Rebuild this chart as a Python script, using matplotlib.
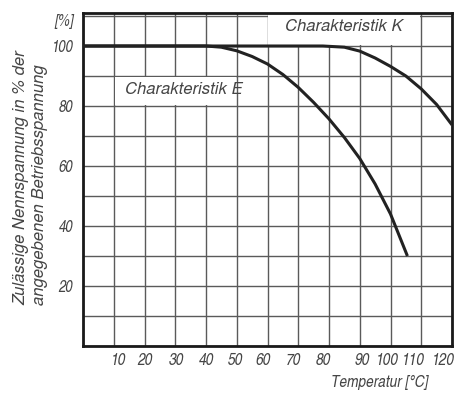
import matplotlib

matplotlib.use("Agg")
import matplotlib.pyplot as plt
from matplotlib.patches import Rectangle
from matplotlib.transforms import ScaledTranslation

# temperature [°C] vs. permissible rated voltage [%]
temp_e = [0, 40, 45, 50, 55, 60, 65, 70, 75, 80, 85, 90, 95, 100, 105.5]
volt_e = [100, 100, 99.6, 98.4, 96.5, 94, 90.5, 86.2, 81.2, 75.7, 69.5, 62.5, 54, 44, 30]
temp_k = [0, 78, 85, 90, 95, 100, 105, 110, 115, 120]
volt_k = [100, 100, 99.6, 98.3, 96, 93.2, 90, 85.7, 80.5, 73.7]

x_ticks = list(range(10, 130, 10))
y_ticks = [20, 40, 60, 80, 100]

W, H = 462, 393
FONT = ["TeX Gyre Heros", "Liberation Sans", "DejaVu Sans"]
FONT_CN = ["TeX Gyre Heros Cn", "Liberation Sans Narrow", "DejaVu Sans"]
TXT = "#454545"
GRID = "#5a5a5a"

plt.rcParams["font.family"] = FONT_CN
plt.rcParams["font.style"] = "italic"

fig = plt.figure(figsize=(W / 100, H / 100), dpi=100)
ax = fig.add_axes([83 / W, 1 - 346 / H, (452 - 83) / W, (346 - 13) / H])
ax.set_xlim(0, 120)
ax.set_ylim(0, 111)

# grid every 10 units
ax.set_xticks(range(0, 130, 10))
ax.set_xticklabels([""] + [str(t) for t in x_ticks])
ax.set_yticks(range(0, 120, 10))
ax.set_yticklabels([str(v) if v in y_ticks else "" for v in range(0, 120, 10)])
ax.grid(True, color=GRID, lw=1.0)
ax.set_axisbelow(True)
ax.tick_params(length=0, labelcolor=TXT)
ax.tick_params(axis="y", pad=7, labelsize=11.5)
ax.tick_params(axis="x", pad=5, labelsize=12)
for s in ax.spines.values():
    s.set_linewidth(2.0)
    s.set_color("#1a1a1a")

# hand-lettered labels drift a little off their grid lines (pixels)
shift = [5, 0, 1, 0, -1, -4, -5, -6, 2, -3, -8, -9]
for lab, dx in zip(ax.get_xticklabels()[1:], shift):
    lab.set_transform(lab.get_transform() + ScaledTranslation(dx / 100, 0, fig.dpi_scale_trans))

# white boxes behind the labels (grid hidden there)
for x0, y0, w, h in [(10.3, 80.4, 39.4, 9.2), (60.3, 100.4, 49.4, 11)]:
    ax.add_patch(Rectangle((x0, y0), w, h, color="white", zorder=1.5, lw=0))

ax.plot(temp_e, volt_e, color="#222222", lw=2.2, zorder=3, solid_capstyle="butt")
ax.plot(temp_k, volt_k, color="#222222", lw=2.2, zorder=3, solid_capstyle="butt")

ax.text(32.8, 85.2, "Charakteristik E", family=FONT, fontsize=12, color=TXT,
        ha="center", va="center", zorder=4)
ax.text(84.9, 106.2, "Charakteristik K", family=FONT, fontsize=12, color=TXT,
        ha="center", va="center", zorder=4)
ax.text(-2.9, 108.3, "[%]", fontsize=12, color=TXT, ha="right", va="center")

fig.text(380 / W, 1 - 382 / H, "Temperatur [°C]", fontsize=12, color=TXT, ha="center", va="center")
fig.text(21 / W, 1 - 305 / H, "Zulässige Nennspannung in % der", family=FONT, fontsize=12,
         color=TXT, rotation=90, rotation_mode="anchor", ha="left", va="center")
fig.text(40 / W, 1 - 305 / H, "angegebenen Betriebsspannung", family=FONT, fontsize=12,
         color=TXT, rotation=90, rotation_mode="anchor", ha="left", va="center")

fig.savefig("out.png", dpi=100)
